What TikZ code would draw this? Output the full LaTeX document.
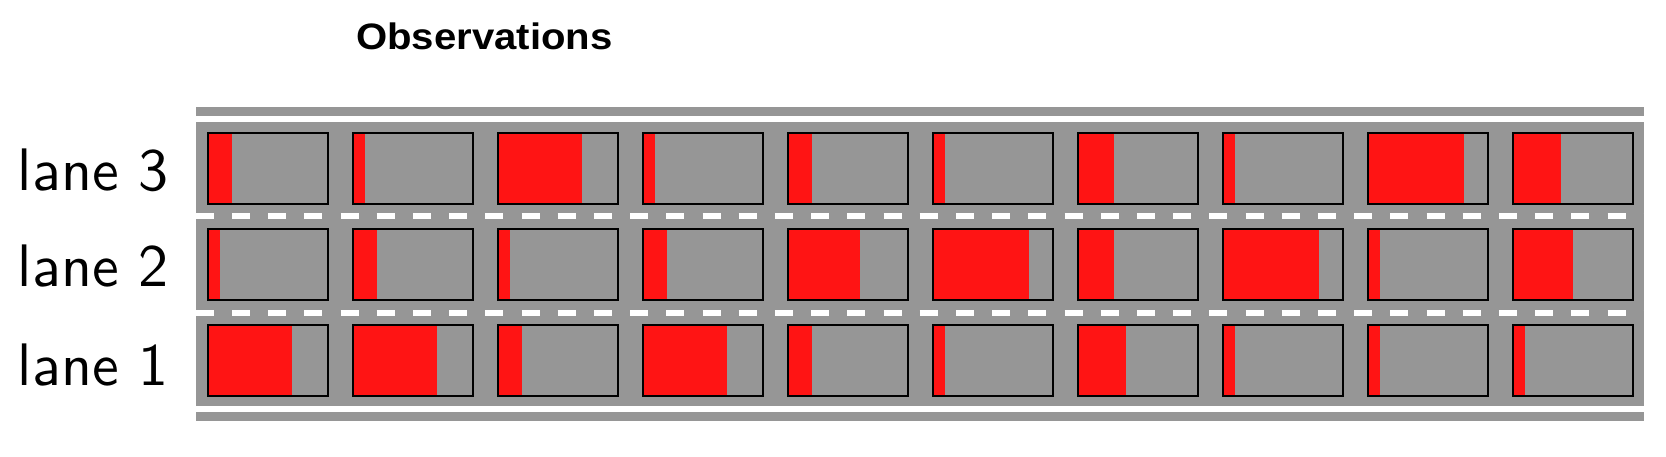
\documentclass[tikz,border=0pt]{standalone}
\usepackage{fontspec}
\newfontfamily\titlefont[FakeStretch=1.09]{Liberation Sans}
\newfontfamily\lanefont[Extension=.otf]{lmsans10-regular}
\definecolor{roadgray}{RGB}{150,150,150}
\definecolor{carred}{RGB}{255,20,20}
\tikzset{
  road/.style={fill=roadgray, draw=none},
  edgeline/.style={fill=white, draw=none},
  lanemark/.style={draw=white, line width=5.7pt, dash pattern=on 18.1pt off 18.1pt},
  car/.style={fill=roadgray, draw=none, minimum width=119.5pt, minimum height=71pt, inner sep=0pt, outer sep=0pt},
  carborder/.style={draw=black, line width=2pt},
  lanelabel/.style={anchor=base east, inner sep=0pt, font=\lanefont\fontsize{60}{70}\selectfont},
  titlelabel/.style={anchor=base west, inner sep=0pt, font=\titlefont\bfseries\fontsize{36.8}{43}\selectfont}
}
\begin{document}
\begin{tikzpicture}[x=1pt,y=-1pt]
\useasboundingbox (0,0) rectangle (1666,456);
% road
\fill[road] (195.7,107.3) rectangle (1644,421);
\fill[edgeline] (195.7,116) rectangle (1644,122.3);
\fill[edgeline] (195.7,406) rectangle (1644,411.7);
\coordinate (m1a) at (195.7,216.2);
\coordinate (m1b) at (1644,216.2);
\coordinate (m2a) at (195.7,312.7);
\coordinate (m2b) at (1644,312.7);
\draw[lanemark] (m1a) -- (m1b);
\draw[lanemark] (m2a) -- (m2b);
% cars
\foreach \ln/\cy/\fl in {3/168/{0.2,0.1,0.7,0.1,0.2,0.1,0.3,0.1,0.8,0.4},
                         2/264.2/{0.1,0.2,0.1,0.2,0.6,0.8,0.3,0.8,0.1,0.5},
                         1/360.8/{0.7,0.7,0.2,0.7,0.2,0.1,0.4,0.1,0.1,0.1}} {
  \foreach \f [count=\i from 0] in \fl {
    \node[car] (c\ln-\i) at ({268.05+145*\i},\cy) {};
    \fill[carred] (c\ln-\i.north west) rectangle ([xshift={\f*119.5pt}]c\ln-\i.south west);
    \draw[carborder] (c\ln-\i.north west) rectangle (c\ln-\i.south east);
  }
}
% labels
\node[lanelabel] (l3) at (169,190) {lane 3};
\node[lanelabel] (l2) at (169,286.7) {lane 2};
\node[lanelabel] (l1) at (169,385) {lane 1};
\node[titlelabel] (title) at (356,49.5) {Observations};
\end{tikzpicture}
\end{document}
